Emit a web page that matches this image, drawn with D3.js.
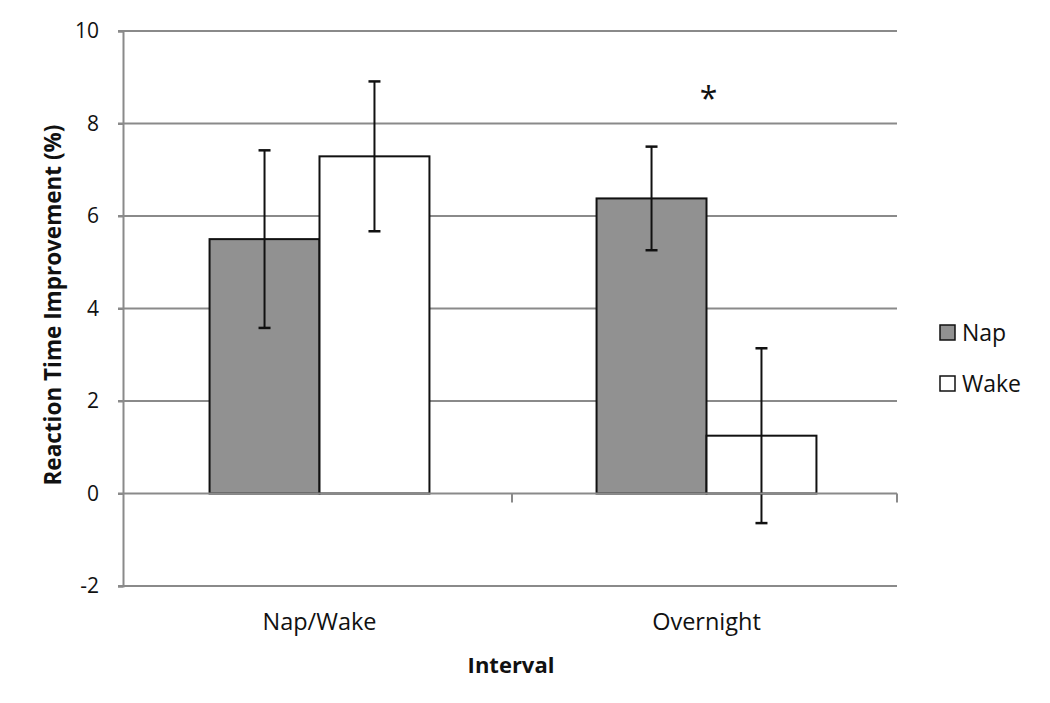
<!DOCTYPE html>
<html><head><meta charset="utf-8">
<script src="https://cdn.jsdelivr.net/npm/d3@7"></script>
<style>body{margin:0;background:#fff}svg{display:block}text{font-family:"Open Sans",sans-serif}</style>
</head><body>
<svg id="c" width="1050" height="703"></svg>
<script>
const categories = ["Nap/Wake", "Overnight"];
const seriesNames = ["Nap", "Wake"];
const napValues = [5.5, 6.38];
const wakeValues = [7.29, 1.25];
const napErrors = [1.92, 1.12];
const wakeErrors = [1.62, 1.89];
const yTicks = [-2, 0, 2, 4, 6, 8, 10];
const significance = ["", "*"];

const colors = {Nap: "#919191", Wake: "#ffffff"};
const svg = d3.select("#c");
const L = 123, R = 897, T = 31, B = 586;

const y = d3.scaleLinear().domain([-2, 10]).range([B, T]);
const x = d3.scaleBand().domain(categories).range([L, R]).padding(0);
const xs = d3.scaleBand().domain(seriesNames).range([3, x.bandwidth() + 3]).paddingInner(0).paddingOuter(0.76);

const data = categories.map((c, i) => ({
  cat: c,
  series: [
    {name: "Nap", v: napValues[i], e: napErrors[i]},
    {name: "Wake", v: wakeValues[i], e: wakeErrors[i]}
  ]
}));

// gridlines
svg.append("g").selectAll("line").data(yTicks.filter(t => t !== 0)).join("line")
  .attr("x1", L - 5).attr("x2", R).attr("y1", d => y(d)).attr("y2", d => y(d))
  .attr("stroke", "#8a8a8a").attr("stroke-width", 2);

// y axis
const yAxis = d3.axisLeft(y).tickValues(yTicks).tickSize(5).tickPadding(19).tickFormat(d => String(d));
const ga = svg.append("g").attr("transform", `translate(${L},0)`).call(yAxis);
ga.select(".domain").attr("stroke", "#8a8a8a").attr("stroke-width", 2);
ga.selectAll(".tick line").attr("stroke", "#8a8a8a").attr("stroke-width", 2);
ga.selectAll(".tick text").attr("font-size", 21).attr("fill", "#111").style("font-family", "Open Sans");

// bars
const groups = svg.append("g").selectAll("g").data(data).join("g")
  .attr("transform", d => `translate(${x(d.cat)},0)`);
groups.selectAll("rect").data(d => d.series).join("rect")
  .attr("x", d => xs(d.name)).attr("width", xs.bandwidth())
  .attr("y", d => y(Math.max(0, d.v))).attr("height", d => Math.abs(y(d.v) - y(0)))
  .attr("fill", d => colors[d.name]).attr("stroke", "#111").attr("stroke-width", 2);

// x axis at 0
const xAxis = d3.axisBottom(x).tickSize(0).tickFormat("");
const gx = svg.append("g").attr("transform", `translate(0,${y(0)})`).call(xAxis);
gx.select(".domain").attr("stroke", "#8a8a8a").attr("stroke-width", 2).attr("d", `M${L - 5},0H${R}`);
svg.append("g").selectAll("line").data([categories[1], null]).join("line")
  .attr("x1", d => d ? x(d) + 2 : R).attr("x2", d => d ? x(d) + 2 : R)
  .attr("y1", y(0)).attr("y2", y(0) + 9).attr("stroke", "#8a8a8a").attr("stroke-width", 2);

// error bars
const eb = groups.selectAll("g.err").data(d => d.series).join("g").attr("class", "err")
  .attr("transform", d => `translate(${xs(d.name) + xs.bandwidth() / 2},0)`);
eb.append("line").attr("y1", d => y(d.v + d.e)).attr("y2", d => y(d.v - d.e))
  .attr("stroke", "#111").attr("stroke-width", 2);
eb.append("line").attr("x1", -6).attr("x2", 6).attr("y1", d => y(d.v + d.e)).attr("y2", d => y(d.v + d.e))
  .attr("stroke", "#111").attr("stroke-width", 2.5);
eb.append("line").attr("x1", -6).attr("x2", 6).attr("y1", d => y(d.v - d.e)).attr("y2", d => y(d.v - d.e))
  .attr("stroke", "#111").attr("stroke-width", 2.5);

// significance
svg.append("g").selectAll("text").data(data).join("text")
  .attr("x", (d, i) => x(d.cat) + x.bandwidth() / 2 + 5).attr("y", 110)
  .attr("text-anchor", "middle").attr("font-size", 32).attr("fill", "#111")
  .text((d, i) => significance[i]);

// category labels
svg.append("g").selectAll("text").data(categories).join("text")
  .attr("x", d => x(d) + x.bandwidth() / 2 + 3).attr("y", 630)
  .attr("text-anchor", "middle").attr("font-size", 23.5).attr("fill", "#111").text(d => d);

// axis titles
svg.append("text").attr("x", 511).attr("y", 673).attr("text-anchor", "middle")
  .attr("font-size", 22).attr("font-weight", "bold").attr("fill", "#111").text("Interval");
svg.append("text").attr("transform", "translate(61,305) rotate(-90)").attr("text-anchor", "middle")
  .attr("font-size", 22.5).attr("font-weight", "bold").attr("fill", "#111").text("Reaction Time Improvement (%)");

// legend
const lg = svg.append("g").selectAll("g").data(seriesNames).join("g")
  .attr("transform", (d, i) => `translate(940,${325 + i * 51})`);
lg.append("rect").attr("width", 15).attr("height", 15)
  .attr("fill", d => colors[d]).attr("stroke", "#111").attr("stroke-width", 1.5);
lg.append("text").attr("x", 22).attr("y", 16).attr("font-size", 23).attr("fill", "#111").text(d => d);
</script>
</body></html>
